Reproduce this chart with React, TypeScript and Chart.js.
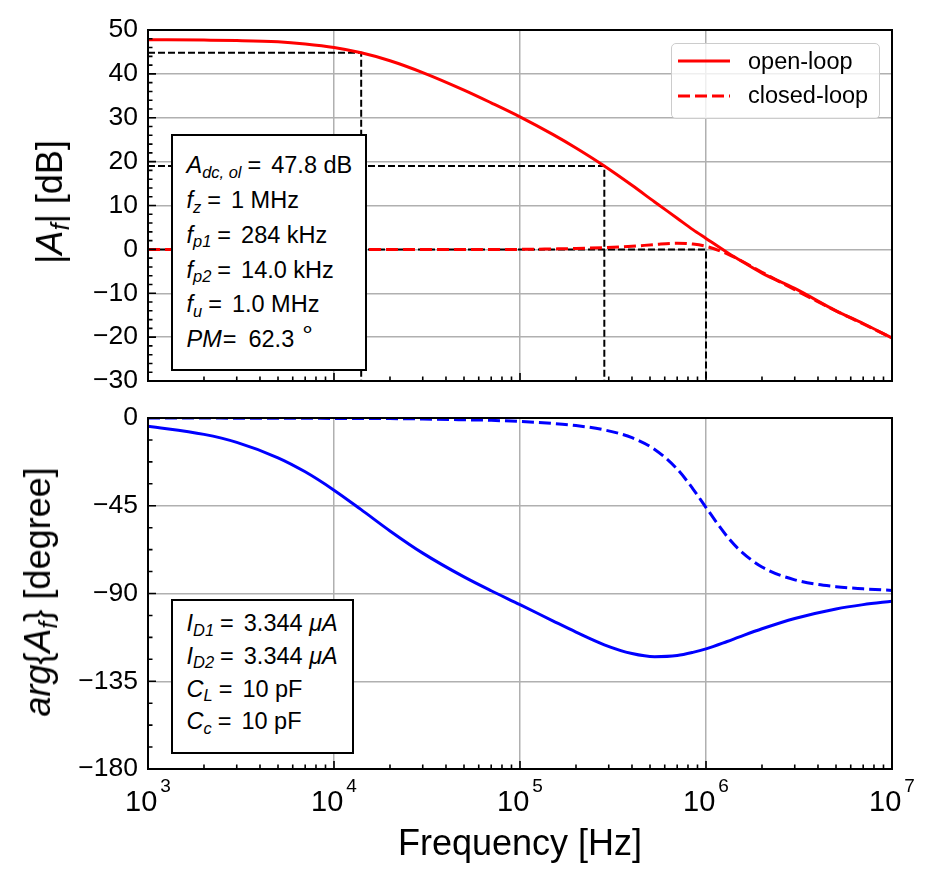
import { useEffect, useRef } from 'react';
import { Chart, registerables } from 'chart.js';

Chart.register(...registerables);

const FONT = '"Liberation Sans", Arial, Helvetica, sans-serif';

// sampled frequencies [Hz]
const freq = [1e3, 2e3, 3e3, 5e3, 7e3, 1e4, 1.4e4, 2e4, 3e4, 5e4, 7e4, 1e5, 1.5e5, 2e5, 2.84e5, 4e5, 5.3e5, 7e5, 8.5e5, 1e6, 1.3e6, 1.5e6, 2e6, 3e6, 5e6, 7e6, 1e7];

// |A_f| [dB]
const openLoopMag = [47.8, 47.7, 47.6, 47.3, 46.8, 46.0, 44.8, 43.0, 40.3, 36.3, 33.4, 30.2, 26.2, 23.1, 19.0, 14.6, 10.8, 7.1, 4.5, 2.5, -0.7, -2.3, -5.4, -8.9, -14.0, -16.9, -20.2];
const closedLoopMag = [0.0, 0.0, 0.0, 0.0, 0.0, 0.0, 0.0, 0.0, 0.0, 0.0, 0.0, 0.0, 0.1, 0.2, 0.4, 0.7, 1.1, 1.4, 1.2, 0.7, -1.0, -2.3, -5.2, -9.2, -14.0, -17.0, -20.2];

// arg{A_f} [degree]
const openLoopPhase = [-4.2, -8.4, -12.5, -20.4, -27.6, -37.0, -47.0, -57.9, -69.3, -81.5, -88.6, -95.7, -104.0, -109.8, -116.3, -120.8, -122.4, -121.8, -120.2, -118.4, -114.6, -112.4, -108.1, -102.8, -97.9, -95.7, -94.0];
const closedLoopPhase = [0.0, 0.0, -0.1, -0.1, -0.1, -0.2, -0.2, -0.3, -0.5, -0.9, -1.2, -1.8, -2.8, -3.9, -6.1, -10.1, -16.1, -26.2, -36.3, -45.9, -60.8, -67.3, -76.4, -83.0, -86.5, -87.6, -88.4];

// dashed guides: f_p2, f_p1, f_u and the gain read there
const guideFreqs = [1.4e4, 2.84e5, 1e6];
const guideLevels = [44.8, 19.0, 0];

// axes
const xDecades = [1e3, 1e4, 1e5, 1e6, 1e7];
const xExponents = ['3', '4', '5', '6', '7'];
const magRange = { min: -30, max: 50, step: 10, minor: 2 };
const phaseRange = { min: -180, max: 0, step: 45, minor: 11.25 };

type Row = { sym: string; sub?: string; value: string; unit?: string; eqGap?: number; valGap?: number; degree?: boolean };

const magInfo: Row[] = [
  { sym: 'A', sub: 'dc, ol', value: '47.8 dB' },
  { sym: 'f', sub: 'z', value: '1 MHz' },
  { sym: 'f', sub: 'p1', value: '284 kHz' },
  { sym: 'f', sub: 'p2', value: '14.0 kHz' },
  { sym: 'f', sub: 'u', value: '1.0 MHz' },
  { sym: 'PM', value: '62.3', eqGap: 1, valGap: 12, degree: true },
];

const phaseInfo: Row[] = [
  { sym: 'I', sub: 'D1', value: '3.344', unit: 'μA' },
  { sym: 'I', sub: 'D2', value: '3.344', unit: 'μA' },
  { sym: 'C', sub: 'L', value: '10 pF' },
  { sym: 'C', sub: 'c', value: '10 pF' },
];

const BOX_FS = 23.5;
const GRID = '#b0b0b0';

const pts = (ys: number[]) => freq.map((f, i) => ({ x: f, y: ys[i] }));

const curve = (label: string, ys: number[], color: string, dashed: boolean, order: number) => ({
  label,
  data: pts(ys),
  borderColor: color,
  borderWidth: 3,
  borderDash: dashed ? [12, 5] : [],
  pointRadius: 0,
  cubicInterpolationMode: 'monotone' as const,
  fill: false,
  order,
});

// draws the box, inward ticks (major + minor) and optional 10^n labels
const axesFrame = (range: { min: number; max: number; step: number; minor: number }, xLabels: boolean) => ({
  id: 'axesFrame',
  afterDatasetsDraw(chart: Chart) {
    const { ctx, chartArea: a } = chart;
    const xs = chart.scales.x;
    const ys = chart.scales.y;
    ctx.save();
    ctx.strokeStyle = '#000';
    ctx.lineWidth = 1.6;
    ctx.beginPath();
    xDecades.forEach((d, i) => {
      const px = xs.getPixelForValue(d);
      ctx.moveTo(px, a.bottom);
      ctx.lineTo(px, a.bottom - 8);
      if (i < xDecades.length - 1) {
        for (let k = 2; k < 10; k++) {
          const mx = xs.getPixelForValue(d * k);
          ctx.moveTo(mx, a.bottom);
          ctx.lineTo(mx, a.bottom - 4.5);
        }
      }
    });
    for (let v = range.min; v <= range.max + 1e-9; v += range.minor) {
      const py = ys.getPixelForValue(v);
      const major = Math.abs(v / range.step - Math.round(v / range.step)) < 1e-6;
      ctx.moveTo(a.left, py);
      ctx.lineTo(a.left + (major ? 8 : 4.5), py);
    }
    ctx.stroke();
    ctx.lineWidth = 2;
    ctx.strokeRect(a.left, a.top, a.right - a.left, a.bottom - a.top);

    if (xLabels) {
      ctx.fillStyle = '#000';
      ctx.textBaseline = 'alphabetic';
      ctx.textAlign = 'left';
      xDecades.forEach((d, i) => {
        const px = xs.getPixelForValue(d);
        ctx.font = `29px ${FONT}`;
        const wBase = ctx.measureText('10').width;
        ctx.font = `19px ${FONT}`;
        const wExp = ctx.measureText(xExponents[i]).width;
        const x0 = px - (wBase + 3 + wExp) / 2;
        ctx.font = `29px ${FONT}`;
        ctx.fillText('10', x0, a.bottom + 42);
        ctx.font = `19px ${FONT}`;
        ctx.fillText(xExponents[i], x0 + wBase + 3, a.bottom + 23);
      });
    }
    ctx.restore();
  },
});

const buildChart = (
  canvas: HTMLCanvasElement,
  datasets: any[],
  range: { min: number; max: number; step: number; minor: number },
  padTop: number,
  xHeight: number,
  bottomAxis: boolean,
) =>
  new Chart(canvas, {
    type: 'line',
    data: { datasets },
    options: {
      animation: false,
      responsive: true,
      maintainAspectRatio: false,
      layout: { padding: { left: 0, right: 41, top: padTop, bottom: 0 } },
      plugins: { legend: { display: false }, tooltip: { enabled: false } },
      scales: {
        x: {
          type: 'logarithmic',
          min: 1e3,
          max: 1e7,
          afterBuildTicks: (scale: any) => {
            scale.ticks = xDecades.map(v => ({ value: v }));
          },
          afterFit: (scale: any) => {
            scale.height = xHeight;
          },
          ticks: { display: false },
          grid: { color: GRID, lineWidth: 1.5, drawTicks: false },
          border: { display: false },
          title: {
            display: bottomAxis,
            text: 'Frequency [Hz]',
            color: '#000',
            font: { family: FONT, size: 36 },
            padding: { top: 0, bottom: 15 },
          },
        },
        y: {
          min: range.min,
          max: range.max,
          afterFit: (scale: any) => {
            scale.width = 148;
          },
          ticks: {
            stepSize: range.step,
            padding: 0,
            color: '#000',
            font: { family: FONT, size: 26.5 },
            callback: (v: any) => String(v).replace('-', '\u2212'),
          },
          // invisible tick marks only push the labels away from the spine
          grid: { color: GRID, lineWidth: 1.5, drawTicks: true, tickLength: 10, tickColor: 'rgba(0,0,0,0)' },
          border: { display: false },
        },
      },
    },
    plugins: [axesFrame(range, bottomAxis)],
  });

const Sub = ({ children }: { children: any }) => (
  <span style={{ fontSize: '0.7em', position: 'relative', top: '0.28em', fontStyle: 'italic' }}>{children}</span>
);

const InfoBox = ({ rows, left, top, width, height, baseline, step }: {
  rows: Row[]; left: number; top: number; width: number; height: number; baseline: number; step: number;
}) => (
  <>
    <div style={{ position: 'absolute', left, top, width, height, boxSizing: 'border-box', border: '2px solid #000', background: '#fff' }} />
    {rows.map((r, i) => (
      <div
        key={i}
        style={{
          position: 'absolute',
          left: left + 15.5,
          top: baseline + i * step - 0.8465 * BOX_FS,
          fontSize: BOX_FS,
          lineHeight: 1,
          whiteSpace: 'nowrap',
        }}
      >
        <i>{r.sym}</i>
        {r.sub && <Sub>{r.sub}</Sub>}
        <span style={{ marginLeft: r.eqGap ?? 6 }}>=</span>
        <span style={{ marginLeft: r.valGap ?? 10 }}>{r.value}</span>
        {r.unit && <i> {r.unit}</i>}
        {r.degree && (
          <span style={{ fontSize: 24, position: 'relative', top: -10, marginLeft: 6, lineHeight: 0 }}>∘</span>
        )}
      </div>
    ))}
  </>
);

const YTitle = ({ x, y, children }: { x: number; y: number; children: any }) => (
  <div style={{ position: 'absolute', left: x, top: y, width: 0, height: 0 }}>
    <div
      style={{
        position: 'absolute',
        left: 0,
        top: 0,
        transform: 'translate(-50%, -50%) rotate(-90deg)',
        whiteSpace: 'nowrap',
        fontSize: 36,
        lineHeight: 1,
      }}
    >
      {children}
    </div>
  </div>
);

export default function App() {
  const magRef = useRef<HTMLCanvasElement | null>(null);
  const phaseRef = useRef<HTMLCanvasElement | null>(null);

  useEffect(() => {
    if (!magRef.current || !phaseRef.current) return;

    const guides = guideFreqs.map((f, i) => ({
      label: `guide-${i}`,
      data: [
        { x: xDecades[0], y: guideLevels[i] },
        { x: f, y: guideLevels[i] },
        { x: f, y: magRange.min },
      ],
      borderColor: '#000',
      borderWidth: 2,
      borderDash: [7, 3],
      pointRadius: 0,
      tension: 0,
      fill: false,
      order: 5,
    }));

    const magChart = buildChart(
      magRef.current,
      [
        curve('open-loop', openLoopMag, '#ff0000', false, 0),
        curve('closed-loop', closedLoopMag, '#ff0000', true, 1),
        ...guides,
      ],
      magRange,
      30,
      19,
      false,
    );

    const phaseChart = buildChart(
      phaseRef.current,
      [
        curve('open-loop', openLoopPhase, '#0000ff', false, 0),
        curve('closed-loop', closedLoopPhase, '#0000ff', true, 1),
      ],
      phaseRange,
      18,
      113,
      true,
    );

    return () => {
      magChart.destroy();
      phaseChart.destroy();
    };
  }, []);

  return (
    <div
      style={{
        position: 'absolute',
        left: 0,
        top: 0,
        width: 933,
        height: 882,
        background: '#fff',
        color: '#000',
        fontFamily: FONT,
        overflow: 'hidden',
      }}
    >
      <div style={{ position: 'absolute', left: 0, top: 0, width: 933, height: 400 }}>
        <canvas ref={magRef} />
      </div>
      <div style={{ position: 'absolute', left: 0, top: 400, width: 933, height: 482 }}>
        <canvas ref={phaseRef} />
      </div>

      <YTitle x={50} y={202}>
        |<i>A</i><Sub>f</Sub>| [dB]
      </YTitle>
      <YTitle x={38} y={592}>
        <i>arg</i>{'{'}<i>A</i><Sub>f</Sub>{'}'} [degree]
      </YTitle>

      <InfoBox rows={magInfo} left={171} top={134} width={196} height={237} baseline={174} step={34.8} />
      <InfoBox rows={phaseInfo} left={171} top={599} width={183} height={155} baseline={632} step={32.7} />

      <div
        style={{
          position: 'absolute',
          left: 671,
          top: 43,
          width: 209,
          height: 76,
          boxSizing: 'border-box',
          border: '1.5px solid #cccccc',
          borderRadius: 5,
          background: 'rgba(255,255,255,0.8)',
        }}
      />
      <svg style={{ position: 'absolute', left: 0, top: 0 }} width={933} height={140}>
        <line x1={678} y1={61} x2={730} y2={61} stroke="#ff0000" strokeWidth={3} />
        <line x1={678} y1={96} x2={730} y2={96} stroke="#ff0000" strokeWidth={3} strokeDasharray="12 5" />
      </svg>
      <div style={{ position: 'absolute', left: 748, top: 70 - 0.8465 * BOX_FS, fontSize: BOX_FS, lineHeight: 1, whiteSpace: 'nowrap' }}>
        open-loop
      </div>
      <div style={{ position: 'absolute', left: 748, top: 104 - 0.8465 * BOX_FS, fontSize: BOX_FS, lineHeight: 1, whiteSpace: 'nowrap' }}>
        closed-loop
      </div>
    </div>
  );
}
